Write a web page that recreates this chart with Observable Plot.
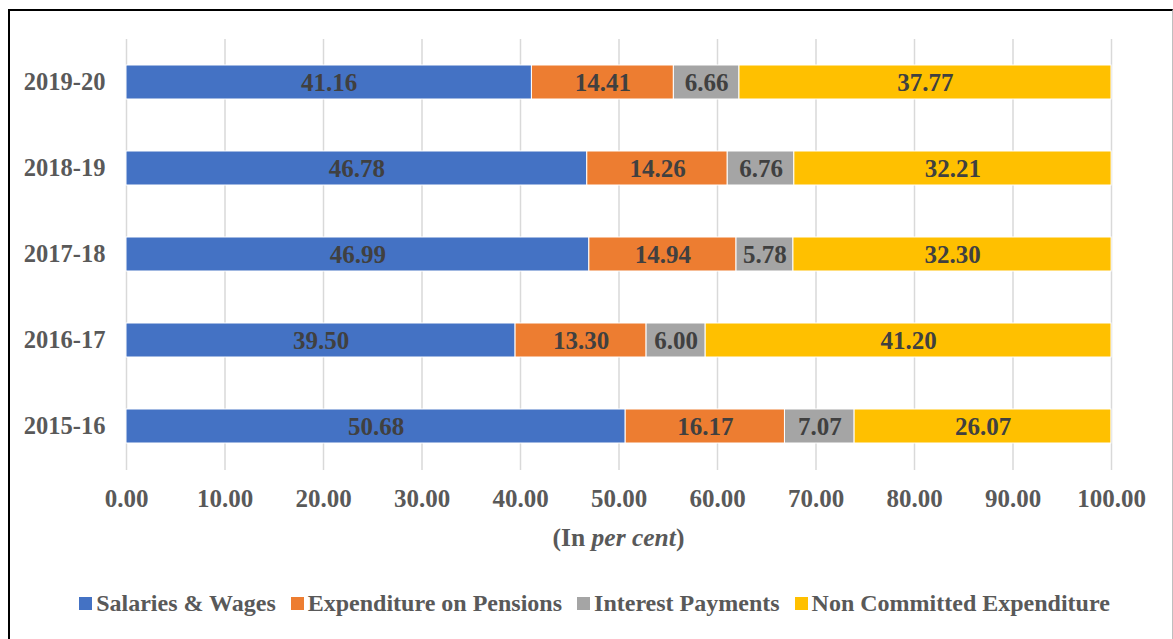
<!DOCTYPE html>
<html>
<head>
<meta charset="utf-8">
<script src="https://cdn.jsdelivr.net/npm/d3@7"></script>
<script src="https://cdn.jsdelivr.net/npm/@observablehq/plot@0.6"></script>
<style>
  html, body { margin: 0; padding: 0; background: #fff; }
  body { width: 1173px; height: 639px; position: relative; overflow: hidden; font-family: "Liberation Serif", "Times New Roman", serif; }
  #frame { position: absolute; left: 8px; top: 9px; width: 1162px; height: 660px; border-left: 2px solid #000; border-top: 2px solid #000; border-right: 1px solid #bfbfbf; }
  #chart { position: absolute; left: 0; top: 0; }
  #xtitle { position: absolute; left: 126px; width: 985px; top: 523px; text-align: center; font-size: 25.5px; font-weight: bold; color: #595959; }
  #legend { position: absolute; left: 0; width: 1189px; top: 590px; display: flex; justify-content: center; align-items: center;
            font-family: "Liberation Serif", "Times New Roman", serif; font-size: 24px; font-weight: bold; color: #595959; white-space: nowrap; }
  .item { display: inline-flex; align-items: center; margin-right: 15px; }
  .item:last-child { margin-right: 0; }
  .sw { display: inline-block; width: 13px; height: 13px; margin-right: 4px; }
</style>
</head>
<body>
<div id="frame"></div>
<div id="chart"></div>
<div id="xtitle">(In <i>per cent</i>)</div>
<div id="legend"></div>
<script>
const years = ["2019-20", "2018-19", "2017-18", "2016-17", "2015-16"];
const series = ["Salaries & Wages", "Expenditure on Pensions", "Interest Payments", "Non Committed Expenditure"];
const salaries = [41.16, 46.78, 46.99, 39.50, 50.68];
const pensions = [14.41, 14.26, 14.94, 13.30, 16.17];
const interest = [6.66, 6.76, 5.78, 6.00, 7.07];
const nonCommitted = [37.77, 32.21, 32.30, 41.20, 26.07];
const colors = ["#4472C4", "#ED7D31", "#A5A5A5", "#FFC000"];
const xTicks = [0, 10, 20, 30, 40, 50, 60, 70, 80, 90, 100];

const valuesBySeries = [salaries, pensions, interest, nonCommitted];
const data = [];
years.forEach((y, i) => {
  series.forEach((s, j) => data.push({year: y, series: s, value: valuesBySeries[j][i]}));
});

const font = "Liberation Serif, Times New Roman, serif";

const chart = Plot.plot({
  width: 1173,
  height: 530,
  marginLeft: 126,
  marginRight: 62,
  marginTop: 39,
  marginBottom: 60,
  style: {fontFamily: font, fontSize: "25px", fontWeight: "bold", color: "#595959", background: "transparent", overflow: "visible"},
  x: {domain: [0, 100], ticks: xTicks, tickFormat: d => d.toFixed(2), label: null},
  y: {domain: years, paddingInner: 0.6, paddingOuter: 0.3, label: null},
  color: {domain: series, range: colors},
  marks: [
    Plot.gridX(xTicks, {stroke: "#d9d9d9", strokeOpacity: 1, strokeWidth: 1.5}),
    Plot.barX(data, Plot.stackX({x: "value", y: "year", fill: "series", stroke: "#fff", strokeWidth: 1})),
    Plot.text(data, Plot.stackX({x: "value", y: "year", text: d => d.value.toFixed(2), fill: "#404040", fontSize: 25, fontWeight: "bold"})),
    Plot.axisX({ticks: xTicks, tickFormat: d => d.toFixed(2), tickSize: 0, tickPadding: 19, fontSize: 25, fontWeight: "bold", label: null}),
    Plot.axisY({tickSize: 0, tickPadding: 21, fontSize: 24.5, fontWeight: "bold", label: null})
  ]
});
document.getElementById("chart").appendChild(chart);

const color = chart.scale("color");
const legendDiv = document.getElementById("legend");
series.forEach(s => {
  const item = document.createElement("span");
  item.className = "item";
  const sw = document.createElement("span");
  sw.className = "sw";
  sw.style.background = color.apply(s);
  item.appendChild(sw);
  item.appendChild(document.createTextNode(s));
  legendDiv.appendChild(item);
});
</script>
</body>
</html>
